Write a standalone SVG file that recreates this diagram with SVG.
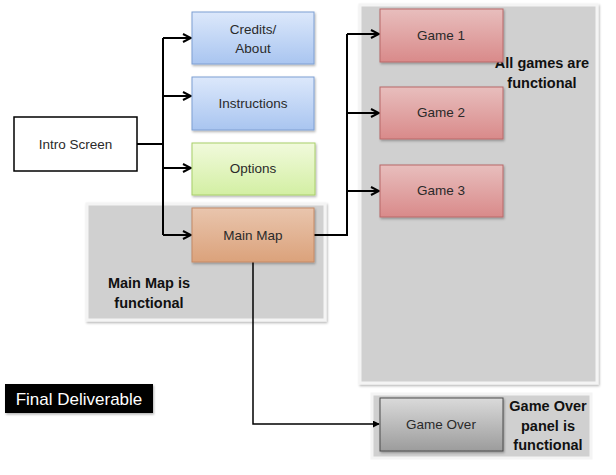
<svg xmlns="http://www.w3.org/2000/svg" width="616" height="475" viewBox="0 0 616 475">
<defs>
<linearGradient id="gBlue" x1="0" y1="0" x2="0" y2="1"><stop offset="0" stop-color="#dce8fb"/><stop offset="1" stop-color="#a9c5f0"/></linearGradient>
<linearGradient id="gGreen" x1="0" y1="0" x2="0" y2="1"><stop offset="0" stop-color="#f1fadc"/><stop offset="1" stop-color="#d3efa3"/></linearGradient>
<linearGradient id="gOrange" x1="0" y1="0" x2="0" y2="1"><stop offset="0" stop-color="#e9c5ad"/><stop offset="1" stop-color="#dba27b"/></linearGradient>
<linearGradient id="gRed" x1="0" y1="0" x2="0" y2="1"><stop offset="0" stop-color="#e8bebd"/><stop offset="1" stop-color="#d98a8a"/></linearGradient>
<linearGradient id="gGray" x1="0" y1="0" x2="0" y2="1"><stop offset="0" stop-color="#dadada"/><stop offset="1" stop-color="#9c9c9c"/></linearGradient>
<filter id="sh" x="-10%" y="-10%" width="130%" height="130%"><feDropShadow dx="1" dy="1.5" stdDeviation="1.2" flood-color="#000" flood-opacity="0.3"/></filter>
<marker id="arr" viewBox="0 0 10 10" refX="9" refY="5" markerWidth="10" markerHeight="10" markerUnits="userSpaceOnUse" orient="auto"><path d="M1,1 L9,5 L1,9" fill="none" stroke="#000" stroke-width="2"/></marker>
<marker id="tri" viewBox="0 0 8 8" refX="7" refY="4" markerWidth="7" markerHeight="7" markerUnits="userSpaceOnUse" orient="auto"><path d="M0,0 L8,4 L0,8 Z" fill="#000"/></marker>
</defs>
<style>
.t{font-family:"Liberation Sans",Arial,sans-serif;font-size:13.5px;fill:#2a2a2a;text-anchor:middle}
.b{font-family:"Liberation Sans",Arial,sans-serif;font-size:14.5px;font-weight:bold;fill:#111;text-anchor:middle}
.panel{fill:#d0d0d0;stroke:#f4f4f4;stroke-width:3}
.c{fill:none;stroke:#000;stroke-width:2}
</style>
<rect width="616" height="475" fill="#fff"/>

<g id="panel-games"><rect class="panel" x="360" y="5" width="237" height="378" filter="url(#sh)"/>
<text class="b" x="542" y="68">All  games are</text><text class="b" x="542" y="88">functional</text></g>
<g id="panel-mainmap"><rect class="panel" x="87" y="204" width="238" height="116" filter="url(#sh)"/>
<text class="b" x="149" y="288">Main Map is</text><text class="b" x="149" y="308">functional</text></g>
<g id="panel-gameover"><rect class="panel" x="372" y="394" width="219" height="64"/>
<text class="b" x="548" y="411">Game Over</text><text class="b" x="548" y="431">panel is</text><text class="b" x="548" y="450">functional</text></g>

<g id="connectors">
<path class="c" d="M137,144 H163"/>
<path class="c" d="M163,38 V235"/>
<path class="c" d="M163,38 H191" marker-end="url(#arr)"/>
<path class="c" d="M163,96 H191" marker-end="url(#arr)"/>
<path class="c" d="M163,168 H191" marker-end="url(#arr)"/>
<path class="c" d="M163,235 H191" marker-end="url(#arr)"/>
<path class="c" d="M314,235 H347 V34"/>
<path class="c" d="M347,34 H379" marker-end="url(#arr)"/>
<path class="c" d="M347,113 H379" marker-end="url(#arr)"/>
<path class="c" d="M347,191 H379" marker-end="url(#arr)"/>
<path fill="none" stroke="#000" stroke-width="1.5" d="M253,262 V424 H379" marker-end="url(#tri)"/>
</g>

<g id="intro"><rect x="14" y="117" width="123" height="54" fill="#fff" stroke="#000" stroke-width="1.5"/><text class="t" x="75.5" y="149">Intro Screen</text></g>
<g id="credits"><rect x="192" y="12" width="122" height="52" fill="url(#gBlue)" stroke="#7e9fd3" filter="url(#sh)"/><text class="t" x="253" y="34">Credits/</text><text class="t" x="253" y="53">About</text></g>
<g id="instructions"><rect x="192" y="77" width="122" height="53" fill="url(#gBlue)" stroke="#7e9fd3" filter="url(#sh)"/><text class="t" x="253" y="108">Instructions</text></g>
<g id="options"><rect x="192" y="143" width="123" height="52" fill="url(#gGreen)" stroke="#a8cf6a" filter="url(#sh)"/><text class="t" x="253" y="173">Options</text></g>
<g id="mainmap"><rect x="192" y="208" width="122" height="54" fill="url(#gOrange)" stroke="#c48a66" filter="url(#sh)"/><text class="t" x="253" y="240">Main Map</text></g>
<g id="game1"><rect x="380" y="9" width="123" height="53" fill="url(#gRed)" stroke="#b86868" filter="url(#sh)"/><text class="t" x="441" y="40">Game 1</text></g>
<g id="game2"><rect x="380" y="87" width="123" height="52" fill="url(#gRed)" stroke="#b86868" filter="url(#sh)"/><text class="t" x="441" y="117">Game 2</text></g>
<g id="game3"><rect x="380" y="165" width="123" height="52" fill="url(#gRed)" stroke="#b86868" filter="url(#sh)"/><text class="t" x="441" y="195">Game 3</text></g>
<g id="gameover"><rect x="380" y="398" width="123" height="53" fill="url(#gGray)" stroke="#4a4a4a" filter="url(#sh)"/><text class="t" x="441" y="429">Game Over</text></g>
<g id="final"><rect x="5" y="384" width="148" height="29" fill="#000" filter="url(#sh)"/><text x="79" y="405" font-family="Liberation Sans, Arial, sans-serif" font-size="17" fill="#fff" text-anchor="middle">Final Deliverable</text></g>
</svg>
